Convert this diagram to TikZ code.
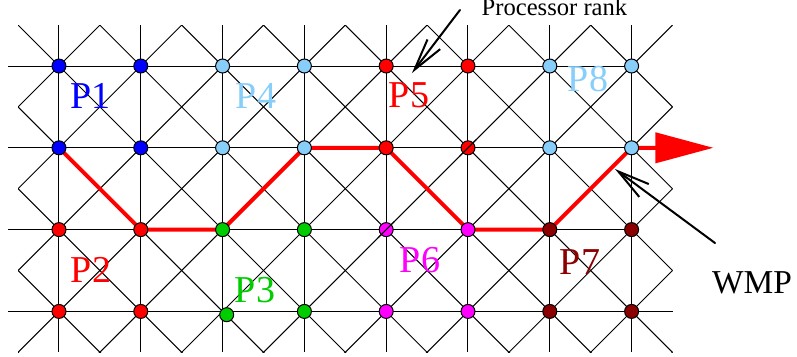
\documentclass[tikz,border=0pt]{standalone}
\usepackage{fontspec}
\setmainfont{Liberation Serif}
\usetikzlibrary{arrows.meta, backgrounds}

\definecolor{pblue}{RGB}{0,0,255}
\definecolor{plight}{RGB}{135,206,250}
\definecolor{pred}{RGB}{255,0,0}
\definecolor{pgreen}{RGB}{0,205,0}
\definecolor{pmagenta}{RGB}{255,0,255}
\definecolor{pdark}{RGB}{139,0,0}

\begin{document}
\begin{tikzpicture}[x=40.9pt, y=40.9pt, line cap=round, line join=round,
    gridline/.style={line width=0.5pt},
    proc/.style={circle, draw, line width=0.5pt, minimum size=7pt, inner sep=0pt},
    plabel/.style={font=\fontsize{19}{19}\selectfont, inner sep=0pt},
    wmppath/.style={pred, line width=2pt, line cap=butt, line join=miter,
      -{Triangle[length=29pt,width=15pt]}},
    pointer/.style={line width=1pt, -{Straight Barb[length=16pt,width=8pt]}}]
    \useasboundingbox (-0.721,0.807) rectangle (9.022,-3.545);

    % Prozessor-Punkte, je 2x2 pro Rang
    \foreach \bx/\by/\clr in {0/0/pblue, 1/0/plight, 2/0/pred, 3/0/plight,
                              0/1/pred, 1/1/pgreen, 2/1/pmagenta, 3/1/pdark} {
      \foreach \dx in {0,1} {
        \foreach \dy in {0,1} {
          \pgfmathtruncatemacro\i{2*\bx+\dx}
          \pgfmathtruncatemacro\j{2*\by+\dy}
          \pgfmathsetmacro\ox{(\i==2 && \j==3) ? 0.05 : 0}
          \pgfmathsetmacro\oy{(\i==2 && \j==3) ? -0.04 : 0}
          \node[proc, fill=\clr] (n-\i-\j) at (\i+\ox,-\j+\oy) {};
        }
      }
    }

    \begin{pgfonlayer}{background}
      % Diagonalen (abgeschnitten am Rand)
      \begin{scope}
        \clip (-0.5,-3.5) rectangle (7.5,0.5);
        \foreach \c in {-1,...,11}
          \draw[gridline] (\c-4,-4) -- (\c+1,1);
        \foreach \c in {-4,...,8}
          \draw[gridline] (\c+4,-4) -- (\c-1,1);
      \end{scope}

      % Senkrechte und waagrechte Linien
      \foreach \i in {0,...,7}
        \draw[gridline] (\i,0.5) -- (\i,-3.5);
      \foreach \j/\e in {0/7,1/7,2/7,3/7.5}
        \draw[gridline] (-0.62,-\j) -- (\e,-\j);

      % WMP-Pfad
      \coordinate (tip) at (8,-1);
      \draw[wmppath] (n-0-1.center) -- (n-1-2.center) -- (n-2-2.center)
        -- (n-3-1.center) -- (n-4-1.center) -- (n-5-2.center)
        -- (n-6-2.center) -- (n-7-1.center) -- (tip);
    \end{pgfonlayer}

    % Linien ueber zwei Punkten
    \draw[gridline] ([shift={(-0.1,-0.1)}]n-5-1.center) -- ([shift={(0.1,0.1)}]n-5-1.center);
    \draw[gridline] ([shift={(-0.1,-0.1)}]n-4-2.center) -- ([shift={(0.1,0.1)}]n-4-2.center);

    % Raenge
    \node[plabel, text=pblue] (lab-p1) at (0.385,-0.367) {P1};
    \node[plabel, text=plight] (lab-p4) at (2.408,-0.367) {P4};
    \node[plabel, text=pred] (lab-p5) at (4.279,-0.355) {P5};
    \node[plabel, text=plight] (lab-p8) at (6.467,-0.159) {P8};
    \node[plabel, text=pred] (lab-p2) at (0.391,-2.494) {P2};
    \node[plabel, text=pgreen] (lab-p3) at (2.396,-2.738) {P3};
    \node[plabel, text=pmagenta] (lab-p6) at (4.413,-2.372) {P6};
    \node[plabel, text=pdark] (lab-p7) at (6.369,-2.396) {P7};

    % Beschriftungen mit Pfeilen
    \node[font=\fontsize{12.3}{14}\selectfont, anchor=base, inner sep=0pt] (rank) at (6.057,0.623) {Processor rank};
    \node[font=\fontsize{16.7}{18}\selectfont, anchor=base, inner sep=0pt] (wmp) at (8.472,-2.775) {WMP};
    \coordinate (rank-tail) at (4.902,0.685);
    \coordinate (rank-tip) at (4.315,-0.086);
    \draw[pointer] (rank-tail) -- (rank-tip);
    \coordinate (wmp-tail) at (8.02,-2.164);
    \coordinate (wmp-tip) at (6.797,-1.259);
    \draw[pointer] (wmp-tail) -- (wmp-tip);
\end{tikzpicture}
\end{document}
